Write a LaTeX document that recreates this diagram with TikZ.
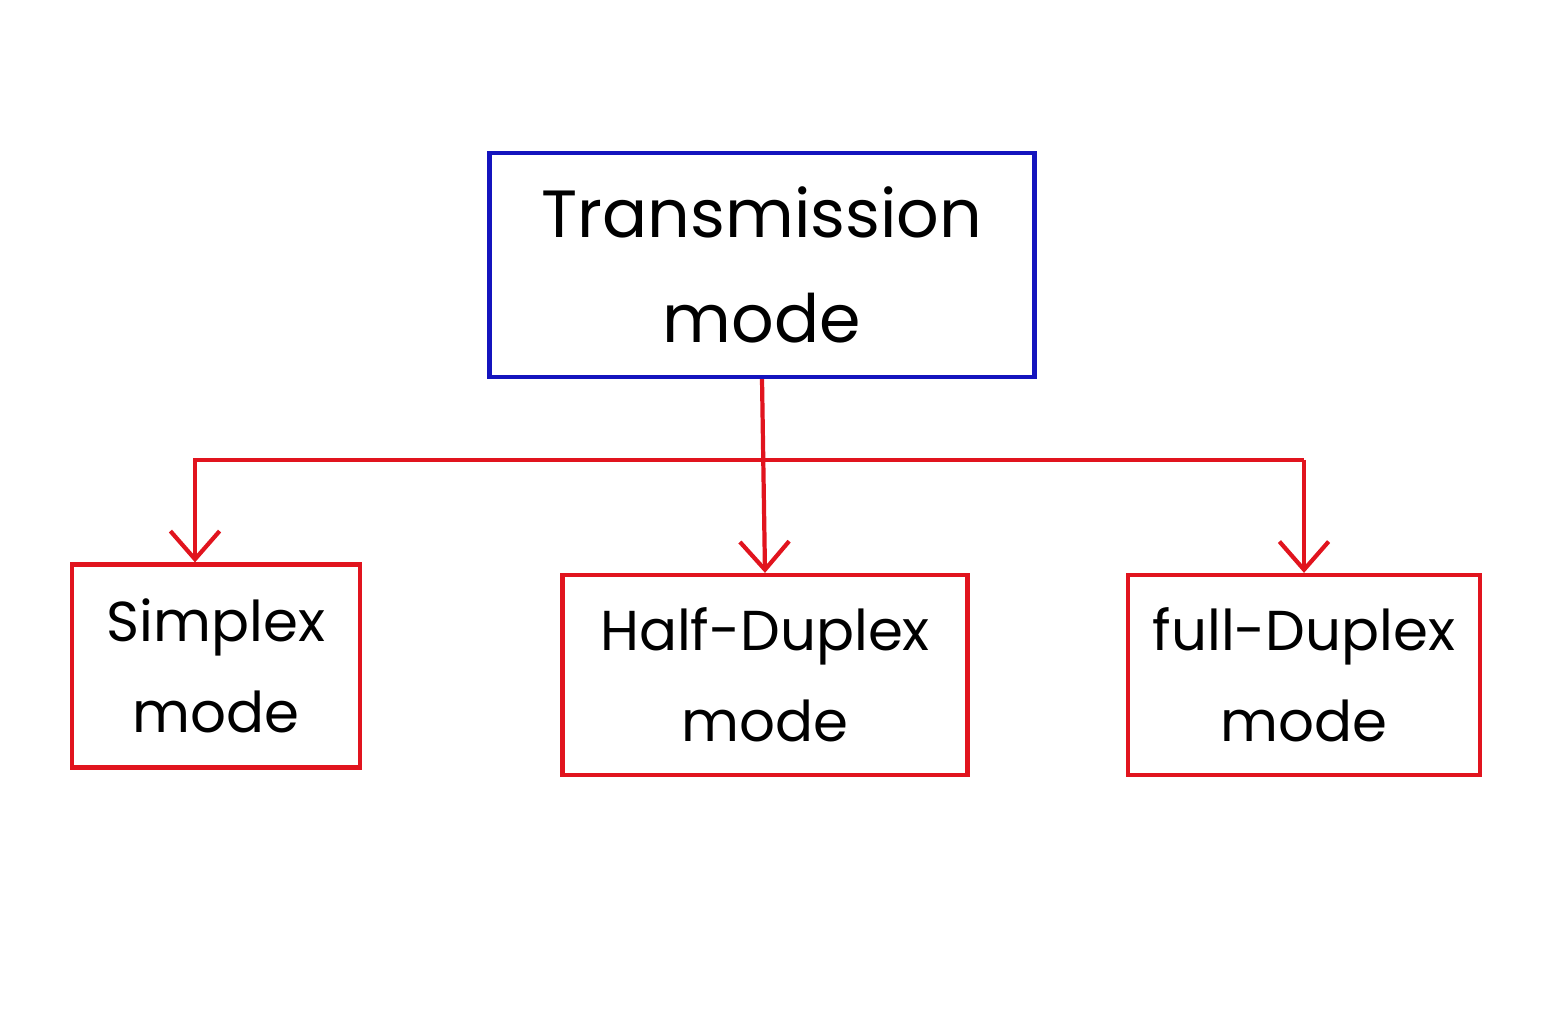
\documentclass[tikz,border=0pt]{standalone}
\usepackage{fontspec}
\setmainfont{Poppins}
\usetikzlibrary{positioning, arrows.meta}
\definecolor{boxblue}{RGB}{20,20,190}
\definecolor{boxred}{RGB}{225,20,30}
\begin{document}
\begin{tikzpicture}[
        mode/.style={draw=boxred, line width=1.2pt, align=center, inner sep=0pt, font=\fontsize{16}{26}\selectfont},
        arrow/.style={-{Straight Barb[length=8pt, width=14pt]}, draw=boxred, line width=1.2pt}
    ]
    \useasboundingbox (0,0) rectangle (15.6,10.08);
    % Root
    \node[mode, draw=boxblue, minimum width=5.45cm, minimum height=2.24cm,
          font=\fontsize{19}{30}\selectfont] (tm) at (7.62,7.43) {Transmission\\mode};
    
    % Children
    \node[mode, minimum width=2.88cm, minimum height=2.03cm] (simplex) at (2.16,3.42) {Simplex\\mode};
    \node[mode, minimum width=4.05cm, minimum height=2.0cm] (half) at (7.65,3.33) {Half-Duplex\\mode};
    \node[mode, minimum width=3.52cm, minimum height=2.0cm] (full) at (13.04,3.33) {full-Duplex\\mode};
    
    % Connections
    \coordinate (busL) at (1.95,5.48);
    \coordinate (busR) at (full.north |- busL);
    \draw[arrow] (tm.south) -- (half.north);
    \draw[arrow] (busR) -- (busL) -- (busL |- simplex.north);
    \draw[arrow] (busR) -- (full.north);
\end{tikzpicture}
\end{document}
